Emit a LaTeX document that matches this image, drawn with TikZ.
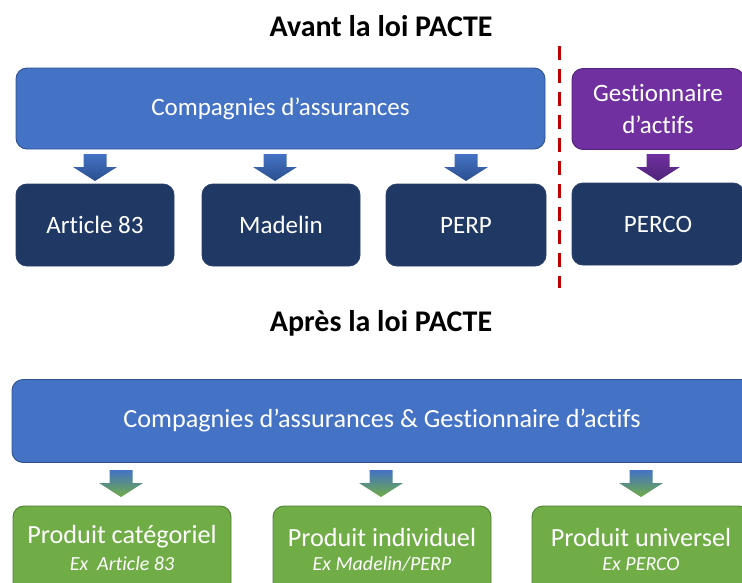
\documentclass[tikz,border=0pt]{standalone}
\usepackage{fontspec}
\setmainfont[Ligatures=NoCommon]{Carlito}
\definecolor{bluefill}{HTML}{4472C4}
\definecolor{blueedge}{HTML}{2F528F}
\definecolor{navyfill}{HTML}{203864}
\definecolor{navyedge}{HTML}{2A406B}
\definecolor{purplefill}{HTML}{7030A0}
\definecolor{purpleedge}{HTML}{52237A}
\definecolor{greenfill}{HTML}{70AD47}
\definecolor{greenedge}{HTML}{507E32}
\definecolor{arrowdark}{HTML}{2B4F8E}
\definecolor{arrowpurpledark}{HTML}{4E2477}
\definecolor{dividerred}{HTML}{C00000}
\tikzset{
  box/.style={rounded corners=11pt, line width=0.9pt, text=white, align=center,
    inner sep=0pt, font=\fontsize{25}{28}\selectfont},
  bluebox/.style={box, fill=bluefill, draw=blueedge},
  navybox/.style={box, fill=navyfill, draw=navyedge},
  purplebox/.style={box, fill=purplefill, draw=purpleedge},
  greenbox/.style={box, fill=greenfill, draw=greenedge},
  heading/.style={font=\bfseries\fontsize{30}{33}\selectfont, text=black},
  bigtext/.style={font=\fontsize{26.2}{29}\selectfont},
  example/.style={font=\itshape\fontsize{20}{23}\selectfont}
}
\usetikzlibrary{calc}
% block arrow pointing down: #1 = top centre coordinate, #2/#3 = shading colours
\newcommand{\downblock}[3]{%
  \shade[top color=#2, bottom color=#3]
    ($(#1)+(-11.5,0)$) -- ($(#1)+(11.5,0)$) -- ($(#1)+(11.5,13)$) --
    ($(#1)+(22,13)$) -- ($(#1)+(0,27)$) -- ($(#1)+(-22,13)$) --
    ($(#1)+(-11.5,13)$) -- cycle;}
\begin{document}
\begin{tikzpicture}[x=1pt, y=-1pt]
\useasboundingbox (0,0) rectangle (742,582);
\clip (0,0) rectangle (742,582);

% ---- before the law
\node[heading] (t1) at (381,26) {Avant la loi PACTE};
\node[bluebox, minimum width=529pt, minimum height=81pt] (ca) at (280.5,108.5) {Compagnies d’assurances};
\node[purplebox, minimum width=172pt, minimum height=81pt] (ga) at (658,109) {Gestionnaire\\[4pt]d’actifs};
\node[navybox, minimum width=158pt, minimum height=82pt] (a83) at (95,225) {Article 83};
\node[navybox, minimum width=158pt, minimum height=82pt] (mad) at (281,225) {Madelin};
\node[navybox, minimum width=160pt, minimum height=82pt] (perp) at (466,225) {PERP};
\node[navybox, minimum width=172pt, minimum height=82pt] (perco) at (658,224) {PERCO};

\coordinate (arA) at (95,154);
\coordinate (arB) at (275,154);
\coordinate (arC) at (466,154);
\coordinate (arD) at (658,154);
\downblock{arA}{bluefill}{arrowdark}
\downblock{arB}{bluefill}{arrowdark}
\downblock{arC}{bluefill}{arrowdark}
\downblock{arD}{purplefill}{arrowpurpledark}

\coordinate (divtop) at (559,46);
\coordinate (divbot) at (559,288);
\draw[dividerred, line width=3pt, dash pattern=on 14pt off 9pt] (divtop) -- (divbot);

% ---- after the law
\node[heading] (t2) at (381,323) {Après la loi PACTE};
\node[bluebox, bigtext, minimum width=740pt, minimum height=83pt] (cga) at (382,421) {Compagnies d’assurances \& Gestionnaire d’actifs};

\node[greenbox, minimum width=218pt, minimum height=110pt] (pc) at (122,561) {};
\node[greenbox, minimum width=218pt, minimum height=110pt] (pi) at (382,561) {};
\node[greenbox, minimum width=218pt, minimum height=110pt] (pu) at (641,561) {};
\node[text=white, bigtext] (pct) at (122,537) {Produit catégoriel};
\node[text=white, example] (pce) at (122,564) {Ex\ \ Article 83};
\node[text=white, bigtext] (pit) at (382,537) {Produit individuel};
\node[text=white, example] (pie) at (382,564) {Ex Madelin/PERP};
\node[text=white, bigtext] (put) at (641,537) {Produit universel};
\node[text=white, example] (pue) at (641,564) {Ex PERCO};

\coordinate (agA) at (121,470);
\coordinate (agB) at (381,470);
\coordinate (agC) at (641,470);
\downblock{agA}{bluefill}{greenfill}
\downblock{agB}{bluefill}{greenfill}
\downblock{agC}{bluefill}{greenfill}
\end{tikzpicture}
\end{document}
